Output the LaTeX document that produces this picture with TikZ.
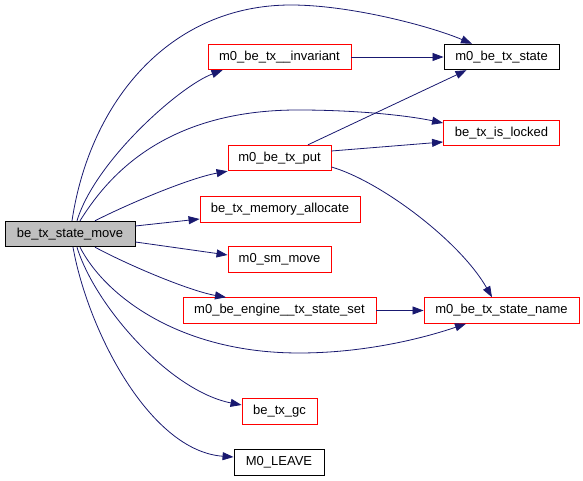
\documentclass[tikz,border=0pt]{standalone}
\usepackage{fontspec}
\setmainfont{Liberation Sans}
\usetikzlibrary{arrows.meta, positioning}
\definecolor{edgeblue}{HTML}{191970}
\definecolor{fnred}{HTML}{FF0000}
\definecolor{fngray}{HTML}{BFBFBF}
\tikzset{
  fn/.style     = {draw=fnred, line width=0.9pt, rectangle, inner sep=2pt,
                   minimum height=25.5pt, font=\fontsize{13pt}{15pt}\selectfont},
  fnplain/.style = {fn, draw=black},
  fnroot/.style  = {fn, draw=black, fill=fngray},
  call/.style    = {-{Triangle[length=11pt, width=8pt]}, draw=edgeblue, line width=0.8pt},
}

\begin{document}
\begin{tikzpicture}[x=1pt, y=1pt]
  \useasboundingbox (0,0) rectangle (583,481);

  % caller
  \node[fnroot, minimum width=130pt] (move) at (70,247) {be\_tx\_state\_move};

  % middle column
  \node[fn, minimum width=143pt] (inv)    at (279.5,424)   {m0\_be\_tx\_\_invariant};
  \node[fn, minimum width=103pt] (put)    at (279.5,323)   {m0\_be\_tx\_put};
  \node[fn, minimum width=160pt] (alloc)  at (280,271.5)   {be\_tx\_memory\_allocate};
  \node[fn, minimum width=103pt] (smmove) at (279.5,221.5) {m0\_sm\_move};
  \node[fn, minimum width=193pt] (engine) at (279.5,170.5) {m0\_be\_engine\_\_tx\_state\_set};
  \node[fn, minimum width=75pt]  (gc)     at (279.5,69.5)  {be\_tx\_gc};
  \node[fnplain, minimum width=90pt] (leave) at (279,18.5) {M0\_LEAVE};

  % right column
  \node[fnplain, minimum width=115pt] (state) at (501.5,424) {m0\_be\_tx\_state};
  \node[fn, minimum width=116pt] (locked) at (501.5,348)   {be\_tx\_is\_locked};
  \node[fn, minimum width=155pt] (sname)  at (501.5,170.5) {m0\_be\_tx\_state\_name};

  % calls from the caller
  \draw[call] ([xshift=2pt]move.north) .. controls (90,380) and (170,476) .. (291,476)
              .. controls (350,476) and (430,455) .. ([xshift=-29.5pt]state.north);
  \draw[call] ([xshift=7pt]move.north) .. controls (95,320) and (180,395) .. ([xshift=15pt]inv.south west);
  \draw[call] ([xshift=10pt]move.north) .. controls (105,300) and (160,371) .. (298,371)
              .. controls (360,371) and (410,365) .. ([yshift=10pt]locked.west);
  \draw[call] ([xshift=25pt]move.north) .. controls (130,278) and (190,303) .. (put.south west);
  \draw[call] ([yshift=8pt]move.east) -- ([yshift=-9.5pt]alloc.west);
  \draw[call] ([yshift=-8pt]move.east) -- ([yshift=4.5pt]smmove.west);
  \draw[call] ([xshift=25pt]move.south) .. controls (130,215) and (190,190) .. ([xshift=-53.5pt]engine.north);
  \draw[call] ([xshift=10pt]move.south) .. controls (105,185) and (180,128) .. (299,128)
              .. controls (370,128) and (430,145) .. ([xshift=-35.5pt]sname.south);
  \draw[call] ([xshift=7pt]move.south) .. controls (95,175) and (170,90) .. ([yshift=6.5pt]gc.west);
  \draw[call] ([xshift=3pt]move.south) .. controls (88,150) and (150,30) .. ([yshift=5.5pt]leave.west);

  % calls further down
  \draw[call] (inv.east) -- (state.west);
  \draw[call] ([xshift=28.5pt]put.north) -- ([xshift=-35pt]state.south);
  \draw[call] ([yshift=7pt]put.east) -- ([yshift=-9pt]locked.west);
  \draw[call] ([yshift=-9pt]put.east) .. controls (380,300) and (460,240) .. ([xshift=-9.5pt]sname.north);
  \draw[call] (engine.east) -- (sname.west);
\end{tikzpicture}
\end{document}
